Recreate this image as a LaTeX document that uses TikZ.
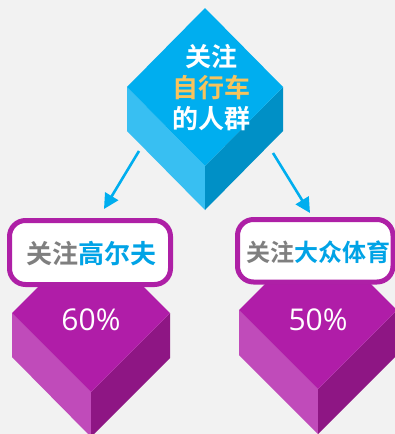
\documentclass[tikz,border=0pt]{standalone}
\usepackage{fontspec}
\setmainfont{Open Sans}
\newfontfamily\cjkb[BoldFont={Noto Sans CJK SC Bold}]{Noto Sans CJK SC}
\usetikzlibrary{arrows.meta}
\definecolor{bg}{HTML}{F2F2F2}
\definecolor{ctop}{HTML}{00AEEF}
\definecolor{cleft}{HTML}{38BFF2}
\definecolor{cright}{HTML}{0090C6}
\definecolor{ptop}{HTML}{B01DA8}
\definecolor{pleft}{HTML}{C04BBA}
\definecolor{pright}{HTML}{8E1684}
\definecolor{pborder}{HTML}{AE20A6}
\definecolor{txtgray}{HTML}{7F7F7F}
\definecolor{txtblue}{HTML}{00A3E6}
\definecolor{txtyellow}{HTML}{F8C35C}
\tikzset{
  arr/.style={draw=ctop, line width=2.6pt, -{Triangle[length=15pt,width=15pt]}},
  labelbox/.style={draw=pborder, line width=5pt, fill=white, rounded corners=16pt},
  cjktext/.style={font=\cjkb\bfseries\fontsize{24}{28}\selectfont, inner sep=0pt},
  pct/.style={font=\fontsize{30}{32}\selectfont, text=white, inner sep=0pt}
}
\begin{document}
\begin{tikzpicture}[x=1pt,y=-1pt]
\fill[bg] (0,0) rectangle (395,434);
\useasboundingbox (0,0) rectangle (395,434);
% top cube
\fill[cleft] (127,87) -- (205,166) -- (205,210) -- (127,131) -- cycle;
\fill[cright] (283,87) -- (205,166) -- (205,210) -- (283,131) -- cycle;
\fill[ctop] (205,8) -- (283,87) -- (205,166) -- (127,87) -- cycle;
\node[cjktext, font=\cjkb\bfseries\fontsize{26}{31}\selectfont, align=center, text=white] (top) at (211,88)
  {关注\\\textcolor{txtyellow}{自行车}\\的人群};
% left cube
\fill[pleft] (12,313) -- (91,392) -- (91,437) -- (12,357) -- cycle;
\fill[pright] (170,313) -- (91,392) -- (91,437) -- (170,358) -- cycle;
\fill[ptop] (91,234) -- (170,313) -- (91,392) -- (12,313) -- cycle;
% right cube
\fill[pleft] (239,310) -- (318,389) -- (318,434) -- (239,355) -- cycle;
\fill[pright] (397,310) -- (318,389) -- (318,434) -- (397,355) -- cycle;
\fill[ptop] (318,231) -- (397,310) -- (318,389) -- (239,310) -- cycle;
% label boxes
\draw[labelbox] (9.5,220.5) rectangle (170.5,284.5);
\draw[labelbox] (237.5,219.5) rectangle (393,282);
\node[cjktext, font=\cjkb\bfseries\fontsize{26}{28}\selectfont] (golf) at (91,254)
  {\textcolor{txtgray}{关注}\textcolor{txtblue}{高尔夫}};
\node[cjktext] (sport) at (318,252)
  {\textcolor{txtgray}{关注}\textcolor{txtblue}{大众体育}};
\node[pct] (p60) at (91,320) {60\%};
\node[pct] (p50) at (318,320) {50\%};
% arrows
\coordinate (a1s) at (139,151);
\coordinate (a1e) at (104,209);
\coordinate (a2s) at (273,153);
\coordinate (a2e) at (310,213);
\draw[arr] (a1s) -- (a1e);
\draw[arr] (a2s) -- (a2e);
\end{tikzpicture}
\end{document}
